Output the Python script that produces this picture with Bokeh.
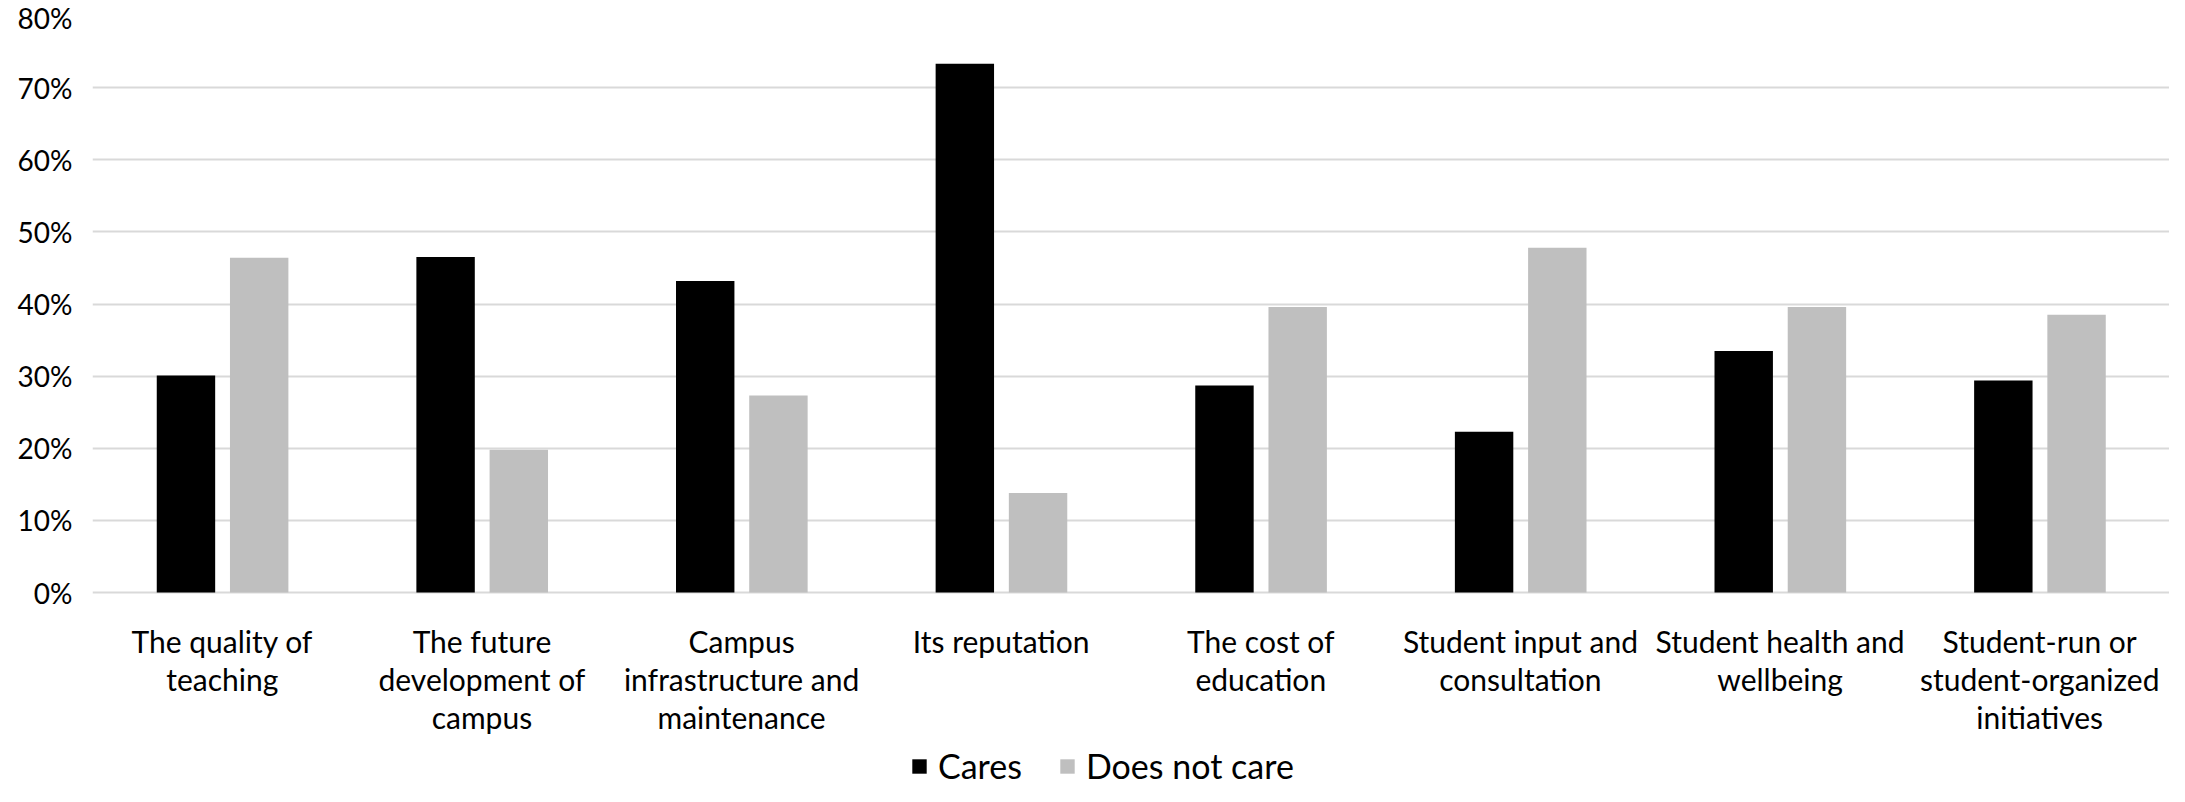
from bokeh.plotting import figure
from bokeh.models import (FactorRange, Range1d, ColumnDataSource, Legend, LegendItem,
                          NumeralTickFormatter, FixedTicker)
from bokeh.core.properties import value
from bokeh.transform import dodge
from bokeh.embed import file_html
from bokeh.resources import INLINE

categories = [
    "The quality of\nteaching",
    "The future\ndevelopment of\ncampus",
    "Campus\ninfrastructure and\nmaintenance",
    "Its reputation",
    "The cost of\neducation",
    "Student input and\nconsultation",
    "Student health and\nwellbeing",
    "Student-run or\nstudent-organized\ninitiatives",
]
cares = [0.301, 0.465, 0.432, 0.733, 0.287, 0.223, 0.335, 0.294]
does_not_care = [0.464, 0.198, 0.273, 0.138, 0.396, 0.478, 0.396, 0.385]
series_names = ["Cares", "Does not care"]
series_colors = ["#000000", "#BFBFBF"]
y_ticks = [0.0, 0.1, 0.2, 0.3, 0.4, 0.5, 0.6, 0.7, 0.8]

FONT = "Lato"

# layout: plot area (0%..80%) is 577 px tall; 194 px below it hold labels + legend
PLOT_PX = 577
BELOW_PX = 194
y_min = -BELOW_PX * (y_ticks[-1] / PLOT_PX)

source = ColumnDataSource(dict(cat=categories, cares=cares, dnc=does_not_care))

p = figure(
    x_range=FactorRange(*categories, range_padding=0),
    y_range=Range1d(y_min, y_ticks[-1]),
    frame_width=2077, frame_height=PLOT_PX + BELOW_PX,
    x_axis_location=None,
    min_border_left=92, min_border_right=0, min_border_top=15, min_border_bottom=0,
    output_backend="svg", toolbar_location=None, tools="",
)
p.outline_line_color = None
p.background_fill_color = "white"
p.border_fill_color = "white"

r1 = p.vbar(x=dodge("cat", -0.14, range=p.x_range), top="cares", width=0.225,
            source=source, fill_color=series_colors[0], line_color=None)
r2 = p.vbar(x=dodge("cat", 0.142, range=p.x_range), top="dnc", width=0.225,
            source=source, fill_color=series_colors[1], line_color=None)

# category labels under the 0% line
p.text(x="cat", y=0, text="cat", source=source,
       text_align="center", text_baseline="top", y_offset=30,
       text_font=value(FONT), text_font_size="30px", text_color="black",
       text_line_height=1.064)

for g in p.grid:
    if g.dimension == 0:
        g.grid_line_color = None
    else:
        g.grid_line_color = "#D9D9D9"
        g.grid_line_width = 2

p.yaxis.ticker = FixedTicker(ticks=y_ticks)
p.yaxis.formatter = NumeralTickFormatter(format="0%")

ax = p.yaxis[0]
ax.axis_line_color = None
ax.major_tick_line_color = None
ax.minor_tick_line_color = None
ax.major_tick_out = 0
ax.major_tick_in = 0
ax.major_label_text_font = FONT
ax.major_label_text_color = "black"
ax.major_label_text_font_size = "28px"
ax.major_label_standoff = 20

legend = Legend(
    items=[LegendItem(label=series_names[0], renderers=[r1]),
           LegendItem(label=series_names[1], renderers=[r2])],
    orientation="horizontal", location=(818, 0),
    border_line_color=None, background_fill_alpha=0,
    label_text_font=FONT, label_text_font_size="34px", label_text_color="black",
    glyph_width=18, glyph_height=18, spacing=36, label_standoff=10,
    padding=0, margin=0,
)
p.add_layout(legend, "center")

open("out.html", "w").write(file_html(p, INLINE))
